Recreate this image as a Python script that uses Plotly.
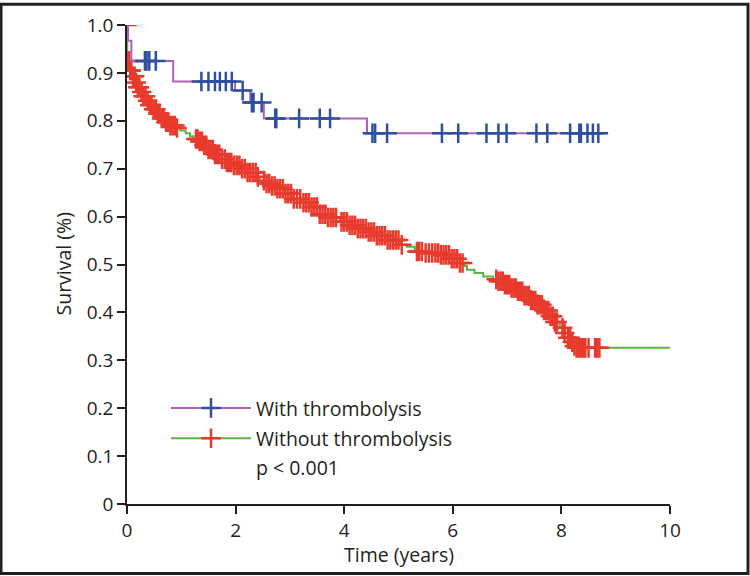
import plotly.graph_objects as go

# ---- data ----
# With thrombolysis (step curve)
blue_t = [0.0, 0.02, 0.08, 0.85, 1.99, 2.27, 2.52, 4.42]
blue_s = [1.0, 0.967, 0.925, 0.882, 0.863, 0.838, 0.805, 0.774]
blue_end = 8.84
blue_cens = [0.33, 0.36, 0.41, 0.53, 1.37, 1.50, 1.62, 1.71, 1.82, 1.93, 2.13,
             2.30, 2.33, 2.48, 2.73, 2.75, 3.17, 3.55, 3.74, 4.52, 4.57, 4.79,
             5.80, 6.10, 6.62, 6.84, 6.99, 7.54, 7.74, 8.16, 8.33, 8.36, 8.48,
             8.58, 8.68]

# Without thrombolysis (step curve)
red_t = [0.0, 0.005, 0.05, 0.10, 0.15, 0.20, 0.24, 0.30, 0.36, 0.42, 0.48, 0.55,
         0.61, 0.70, 0.79, 0.90, 0.98, 1.08, 1.16, 1.22, 1.34, 1.42, 1.50, 1.60,
         1.71, 1.82, 1.95, 2.08, 2.22, 2.39, 2.45, 2.55, 2.66, 2.76, 2.90, 3.06,
         3.20, 3.37, 3.55, 3.70, 3.92, 4.10, 4.25, 4.41, 4.60, 4.78, 5.03, 5.15,
         5.30, 5.50, 5.76, 5.95, 6.13, 6.22, 6.26, 6.40, 6.56, 6.74, 6.81, 6.95,
         7.08, 7.18, 7.30, 7.42, 7.54, 7.66, 7.79, 7.88, 7.97, 8.05, 8.12, 8.18,
         8.22, 8.26]
red_s = [1.0, 0.925, 0.905, 0.893, 0.880, 0.870, 0.860, 0.851, 0.842, 0.833,
         0.824, 0.815, 0.805, 0.797, 0.790, 0.785, 0.780, 0.774, 0.768, 0.762,
         0.757, 0.749, 0.740, 0.730, 0.720, 0.713, 0.707, 0.700, 0.692, 0.683,
         0.675, 0.669, 0.664, 0.658, 0.648, 0.637, 0.629, 0.620, 0.605, 0.598,
         0.589, 0.582, 0.575, 0.568, 0.560, 0.551, 0.541, 0.537, 0.527, 0.524,
         0.520, 0.512, 0.503, 0.497, 0.489, 0.482, 0.475, 0.469, 0.465, 0.458,
         0.451, 0.444, 0.435, 0.425, 0.416, 0.404, 0.392, 0.380, 0.368, 0.357,
         0.347, 0.338, 0.330, 0.326]
red_end = 10.0
red_cens = [0.00, 0.02, 0.04, 0.06, 0.08, 0.11, 0.14, 0.17, 0.20, 0.23, 0.27,
            0.30, 0.34, 0.38, 0.42, 0.45, 0.49, 0.53, 0.57, 0.60, 0.64, 0.68,
            0.72, 0.76, 0.80, 0.84, 0.88, 0.92,
            1.27, 1.30, 1.34, 1.38, 1.42, 1.46, 1.50, 1.54, 1.58, 1.62, 1.66,
            1.70, 1.75, 1.80, 1.84, 1.88, 1.92, 1.97, 2.02, 2.07, 2.12, 2.17,
            2.22, 2.27, 2.32, 2.37, 2.41,
            2.52, 2.57, 2.62, 2.67, 2.72, 2.77, 2.82, 2.87, 2.92, 2.97, 3.02,
            3.07, 3.13, 3.19, 3.25, 3.30, 3.35, 3.40, 3.45, 3.50, 3.55, 3.60,
            3.65, 3.70, 3.75, 3.80, 3.85, 3.95, 4.00, 4.05, 4.10, 4.15, 4.20,
            4.25, 4.30, 4.35, 4.40, 4.45, 4.50, 4.55, 4.60, 4.65, 4.70, 4.75,
            4.80, 4.85, 4.90, 4.95, 5.00, 5.06,
            5.34, 5.38, 5.43, 5.50, 5.56, 5.62, 5.68, 5.73, 5.78, 5.83, 5.88,
            5.93, 5.98, 6.03, 6.08, 6.13, 6.18,
            6.80, 6.84, 6.88, 6.92, 6.96, 7.00, 7.04, 7.08, 7.12, 7.16, 7.20,
            7.24, 7.28, 7.32, 7.36, 7.40, 7.44, 7.48, 7.52, 7.56, 7.60, 7.64,
            7.68, 7.72, 7.76, 7.80, 7.84, 7.88, 7.92, 8.02, 8.06, 8.12, 8.16,
            8.20, 8.24, 8.28, 8.32, 8.36, 8.40, 8.44, 8.50, 8.62, 8.66, 8.70]

x_ticks = [0, 2, 4, 6, 8, 10]
y_ticks = [0, 0.1, 0.2, 0.3, 0.4, 0.5, 0.6, 0.7, 0.8, 0.9, 1.0]
y_ticktext = ["0", "0.1", "0.2", "0.3", "0.4", "0.5", "0.6", "0.7", "0.8", "0.9", "1.0"]

# ---- style ----
PURPLE = "#b260b4"
BLUE = "#2f4f9f"
GREEN = "#5cb446"
RED = "#e83a2c"
INK = "#231f20"
FONT = "Open Sans"


def step_value(ts, ss, t):
    v = ss[0]
    for ti, si in zip(ts, ss):
        if ti <= t:
            v = si
    return v


fig = go.Figure()

# Without thrombolysis
fig.add_trace(go.Scatter(x=red_t + [red_end], y=red_s + [red_s[-1]], mode="lines",
                         line=dict(color=GREEN, width=2, shape="hv"),
                         showlegend=False, hoverinfo="skip"))
fig.add_trace(go.Scatter(x=red_cens, y=[step_value(red_t, red_s, t) for t in red_cens],
                         mode="markers",
                         marker=dict(symbol="cross-thin", size=14, color=RED,
                                     line=dict(color=RED, width=2.5)),
                         showlegend=False))

# With thrombolysis
fig.add_trace(go.Scatter(x=blue_t + [blue_end], y=blue_s + [blue_s[-1]], mode="lines",
                         line=dict(color=PURPLE, width=2, shape="hv"),
                         showlegend=False, hoverinfo="skip"))
fig.add_trace(go.Scatter(x=blue_cens, y=[step_value(blue_t, blue_s, t) for t in blue_cens],
                         mode="markers",
                         marker=dict(symbol="cross-thin", size=14, color=BLUE,
                                     line=dict(color=BLUE, width=2.5)),
                         showlegend=False))

# legend entries
fig.add_trace(go.Scatter(x=[None], y=[None], mode="lines+markers", name="With thrombolysis",
                         line=dict(color=PURPLE, width=2),
                         marker=dict(symbol="cross-thin", size=14, color=BLUE,
                                     line=dict(color=BLUE, width=2.5)),
                         legendgroup="a"))
fig.add_trace(go.Scatter(x=[None], y=[None], mode="lines+markers", name="Without thrombolysis",
                         line=dict(color=GREEN, width=2),
                         marker=dict(symbol="cross-thin", size=14, color=RED,
                                     line=dict(color=RED, width=2.5)),
                         legendgroup="b"))

L, T, W, H = 127, 22, 543, 482
TICK = 19
TXT = 19.5

fig.update_layout(
    width=750, height=576,
    margin=dict(l=L, r=750 - L - W, t=T, b=576 - T - H),
    paper_bgcolor="white", plot_bgcolor="white",
    font=dict(family=FONT, size=TXT, color=INK),
    showlegend=True,
    legend=dict(x=(166 - L) / W, y=(504 - 388) / H, xanchor="left", yanchor="top",
                bgcolor="rgba(0,0,0,0)", font=dict(size=TXT, color=INK),
                itemwidth=80, tracegroupgap=2, traceorder="grouped"),
    xaxis=dict(range=[0, 10], tickvals=x_ticks, showgrid=False, zeroline=False,
               showline=True, linecolor=INK, linewidth=1.5, ticks="outside",
               ticklen=8, tickwidth=1.5, tickcolor=INK,
               tickfont=dict(family=FONT, size=TICK, color=INK)),
    yaxis=dict(range=[0, 1], tickvals=y_ticks, ticktext=y_ticktext, showgrid=False,
               zeroline=False, showline=True, linecolor=INK, linewidth=1.5,
               ticks="outside", ticklen=8, tickwidth=1.5, tickcolor=INK,
               tickfont=dict(family=FONT, size=TICK, color=INK)),
    annotations=[
        dict(text="Time (years)", xref="paper", yref="paper", x=0.5, y=(504 - 555) / H,
             showarrow=False, font=dict(size=TXT, color=INK), xanchor="center", yanchor="middle"),
        dict(text="Survival (%)", xref="paper", yref="paper", x=(63 - L) / W, y=0.5,
             textangle=-90, showarrow=False, font=dict(size=TXT, color=INK),
             xanchor="center", yanchor="middle"),
        dict(text="p < 0.001", xref="paper", yref="paper", x=(254 - L) / W, y=(504 - 467) / H,
             showarrow=False, font=dict(size=TXT, color=INK), xanchor="left", yanchor="middle"),
    ],
    shapes=[dict(type="rect", xref="paper", yref="paper",
                 x0=(1 - L) / W, x1=(748 - L) / W, y0=(504 - 574) / H, y1=(504 - 1) / H,
                 line=dict(color=INK, width=3), fillcolor="rgba(0,0,0,0)", layer="above")],
)

fig.write_html("out.html", config={"displayModeBar": False},
               post_script="document.body.style.margin='0';document.body.style.overflow='hidden';")
